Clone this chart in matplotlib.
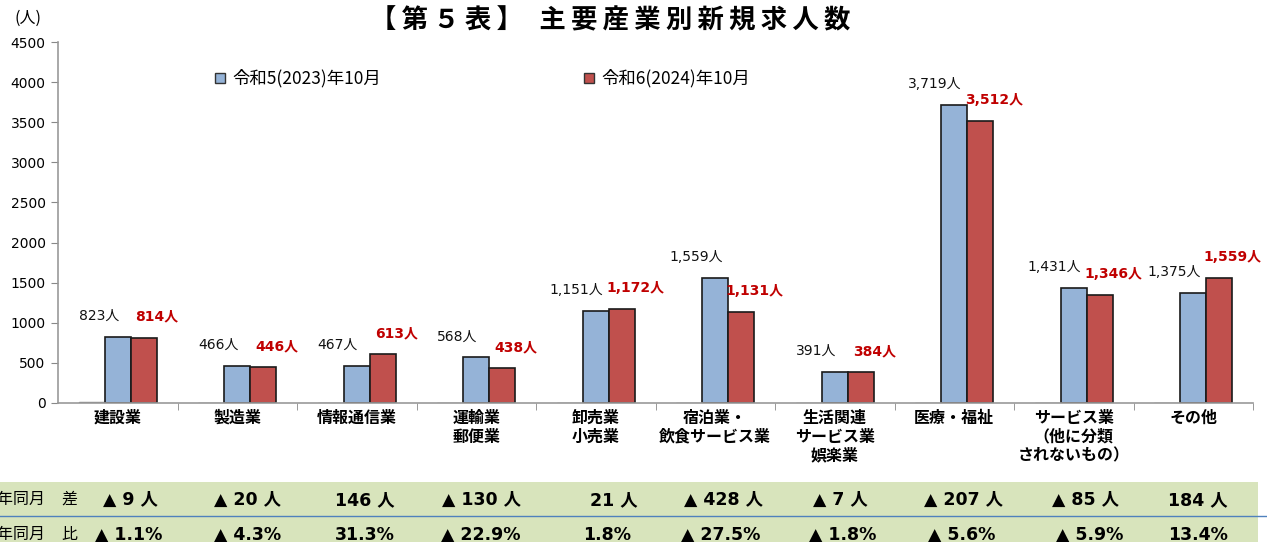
import matplotlib
matplotlib.use("Agg")
import matplotlib.pyplot as plt
from matplotlib.patches import Rectangle
from matplotlib.lines import Line2D

W, H = 1267, 542

categories = ["建設業", "製造業", "情報通信業", "運輸業\n郵便業", "卸売業\n小売業",
              "宿泊業・\n飲食サービス業", "生活関連\nサービス業\n娯楽業", "医療・福祉",
              "サービス業\n（他に分類\nされないもの）", "その他"]
r5 = [823, 466, 467, 568, 1151, 1559, 391, 3719, 1431, 1375]
r6 = [814, 446, 613, 438, 1172, 1131, 384, 3512, 1346, 1559]
dummy = [12, 0, 0, 0, 0, 0, 0, 0, 0, 0]
diff_labels = ["▲ 9 人", "▲ 20 人", "146 人", "▲ 130 人", "21 人",
               "▲ 428 人", "▲ 7 人", "▲ 207 人", "▲ 85 人", "184 人"]
ratio_labels = ["▲ 1.1%", "▲ 4.3%", "31.3%", "▲ 22.9%", "1.8%",
                "▲ 27.5%", "▲ 1.8%", "▲ 5.6%", "▲ 5.9%", "13.4%"]
legend_labels = ["令和5(2023)年10月", "令和6(2024)年10月"]
title = "【第５表】 主要産業別新規求人数"

BLUE = "#95B3D7"
RED = "#C0504D"
LABEL_RED = "#C00000"
JP = ["Noto Sans CJK JP", "DejaVu Sans"]
NUM = ["DejaVu Sans", "Noto Sans CJK JP"]

plt.rcParams["font.family"] = JP


def fx(x):
    return x / W


def fy(y):
    return 1 - y / H


fig = plt.figure(figsize=(W / 100, H / 100), dpi=100)
ax = fig.add_axes([fx(58), fy(403), (1253 - 58) / W, (403 - 42) / H])

n = len(categories)
x = list(range(n))
bw = 0.218
ax.bar([i - bw for i in x], dummy, bw, color="#BFBFBF", edgecolor="#808080", linewidth=1)
ax.bar(x, r5, bw, color=BLUE, edgecolor="#1a1a1a", linewidth=1.2)
ax.bar([i + bw for i in x], r6, bw, color=RED, edgecolor="#1a1a1a", linewidth=1.2)

for i in x:
    ax.annotate(f"{r5[i]:,}人", (i - 0.16, r5[i]), xytext=(0, 15), textcoords="offset points",
                ha="center", va="center", fontsize=10, family=NUM, color="#111111")
    ax.annotate(f"{r6[i]:,}人", (i + 0.33, r6[i]), xytext=(0, 15), textcoords="offset points",
                ha="center", va="center", fontsize=10, family=NUM, color=LABEL_RED,
                fontweight="bold")

ax.set_xlim(-0.5, n - 0.5)
ax.set_ylim(0, 4500)
ax.set_yticks(range(0, 4501, 500))
ax.tick_params(axis="y", labelsize=10, length=5, color="#888888", pad=4)
for t in ax.get_yticklabels():
    t.set_family(NUM)
ax.set_xticks(x)
ax.set_xticklabels(categories, fontsize=11.5, fontweight="bold", linespacing=1.22, va="top")
ax.tick_params(axis="x", length=0, pad=5)
ax.set_xticks([i + 0.5 for i in range(n)], minor=True)
ax.tick_params(axis="x", which="minor", length=5, color="#888888")
for s in ["top", "right"]:
    ax.spines[s].set_visible(False)
for s in ["left", "bottom"]:
    ax.spines[s].set_color("#999999")
    ax.spines[s].set_linewidth(1.2)

# unit label and title
fig.text(fx(28), fy(18), "(人)", ha="center", va="center", fontsize=11.5)
fig.text(fx(610), fy(21), "\u2009".join(title), ha="center", va="center",
         fontsize=19, fontweight="bold")

# legend
for lx, col, lab in [(215, BLUE, legend_labels[0]), (584, RED, legend_labels[1])]:
    fig.add_artist(Rectangle((fx(lx), fy(83)), 10 / W, 10 / H, transform=fig.transFigure,
                             facecolor=col, edgecolor="#333333", linewidth=1))
    fig.text(fx(lx + 17), fy(78), lab, ha="left", va="center", fontsize=12.5)

# bottom table
fig.add_artist(Rectangle((0, 0), fx(1258), 60 / H, transform=fig.transFigure,
                         facecolor="#D8E4BC", edgecolor="none", zorder=0))
fig.add_artist(Line2D([0, fx(1267)], [fy(516), fy(516)], transform=fig.transFigure,
                      color="#4F81BD", linewidth=1))
for ry, mark in [(499, "差"), (534, "比")]:
    fig.text(fx(45), fy(ry), "前年同月", ha="right", va="center", fontsize=11.5)
    fig.text(fx(69), fy(ry), mark, ha="center", va="center", fontsize=11.5)
diff_x = [130, 247, 365, 481, 614, 724, 840, 963, 1086, 1198]
ratio_x = [129, 248, 365, 481, 607, 721, 843, 962, 1090, 1198]
for i in x:
    fig.text(fx(diff_x[i]), fy(500), diff_labels[i], ha="center", va="center",
             fontsize=12.5, fontweight="bold", family=NUM)
    fig.text(fx(ratio_x[i]), fy(535), ratio_labels[i], ha="center", va="center",
             fontsize=12.5, fontweight="bold", family=NUM)

fig.savefig("out.png", dpi=100)
